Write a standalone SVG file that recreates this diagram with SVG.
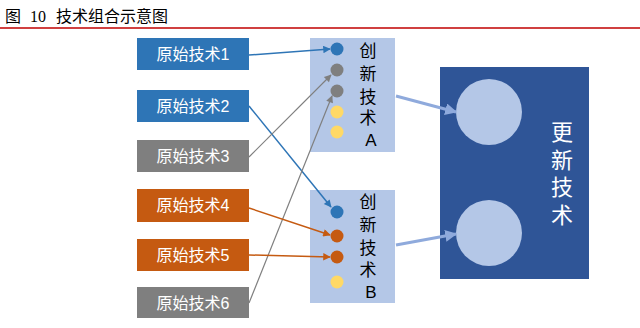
<svg xmlns="http://www.w3.org/2000/svg" width="640" height="328" viewBox="0 0 640 328">
<style>
.t{font-family:"Liberation Sans","Noto Sans CJK SC",sans-serif;}
.lbl{font-size:16px;fill:#fff;text-anchor:middle;}
.v{font-size:17px;fill:#000;text-anchor:middle;}
</style>
<defs>
<marker id="ab" viewBox="0 0 10 10" refX="9" refY="5" markerWidth="6" markerHeight="5" orient="auto" markerUnits="strokeWidth"><path d="M0,0L10,5L0,10z" fill="#2e75b6"/></marker>
<marker id="ag" viewBox="0 0 10 10" refX="9" refY="5" markerWidth="7" markerHeight="6" orient="auto" markerUnits="strokeWidth"><path d="M0,0L10,5L0,10z" fill="#7f7f7f"/></marker>
<marker id="ao" viewBox="0 0 10 10" refX="9" refY="5" markerWidth="6" markerHeight="5" orient="auto" markerUnits="strokeWidth"><path d="M0,0L10,5L0,10z" fill="#c55a11"/></marker>
<marker id="al" viewBox="0 0 10 10" refX="9" refY="5" markerWidth="4" markerHeight="4" orient="auto" markerUnits="strokeWidth"><path d="M0,0L10,5L0,10z" fill="#8faadc"/></marker>
</defs>
<rect width="640" height="328" fill="#fff"/>
<g id="title" font-family="'Liberation Serif','Noto Sans CJK SC',serif" font-size="16" fill="#000">
<text x="5" y="22">图</text>
<text x="30" y="22">10</text>
<text x="56" y="22">技术组合示意图</text>
<line x1="0" y1="28" x2="640" y2="28" stroke="#c00000" stroke-width="1.5"/>
</g>
<g id="src1"><rect x="137" y="38" width="112" height="32" fill="#2e75b6"/><text class="t lbl" x="193" y="60">原始技术1</text></g>
<g id="src2"><rect x="137" y="90" width="112" height="32" fill="#2e75b6"/><text class="t lbl" x="193" y="112">原始技术2</text></g>
<g id="src3"><rect x="137" y="140" width="112" height="32" fill="#7f7f7f"/><text class="t lbl" x="193" y="162">原始技术3</text></g>
<g id="src4"><rect x="137" y="189" width="112" height="33" fill="#c55a11"/><text class="t lbl" x="193" y="211">原始技术4</text></g>
<g id="src5"><rect x="137" y="239" width="112" height="32" fill="#c55a11"/><text class="t lbl" x="193" y="261">原始技术5</text></g>
<g id="src6"><rect x="137" y="287" width="112" height="31" fill="#7f7f7f"/><text class="t lbl" x="193" y="309">原始技术6</text></g>
<g id="innovA">
<rect x="310" y="38" width="85" height="114" fill="#b4c7e7"/>
<circle cx="337" cy="49" r="6.5" fill="#2e75b6"/>
<circle cx="337" cy="70" r="6.5" fill="#7f7f7f"/>
<circle cx="337" cy="91" r="6.5" fill="#7f7f7f"/>
<circle cx="337" cy="112" r="6.5" fill="#ffd966"/>
<circle cx="337" cy="132" r="6.5" fill="#ffd966"/>
<text class="t v" x="368" y="57">创</text>
<text class="t v" x="368" y="80">新</text>
<text class="t v" x="368" y="103">技</text>
<text class="t v" x="368" y="124">术</text>
<text class="t v" x="371" y="146">A</text>
</g>
<g id="innovB">
<rect x="310" y="190" width="85" height="113" fill="#b4c7e7"/>
<circle cx="337" cy="212" r="6.5" fill="#2e75b6"/>
<circle cx="337" cy="236" r="6.5" fill="#c55a11"/>
<circle cx="337" cy="257" r="6.5" fill="#c55a11"/>
<circle cx="337" cy="282" r="6.5" fill="#ffd966"/>
<text class="t v" x="368" y="208">创</text>
<text class="t v" x="368" y="231">新</text>
<text class="t v" x="368" y="254">技</text>
<text class="t v" x="368" y="276">术</text>
<text class="t v" x="371" y="298">B</text>
</g>
<g id="updated">
<rect x="440" y="67" width="149" height="212" fill="#2f5597"/>
<circle cx="489" cy="112" r="33" fill="#b4c7e7"/>
<circle cx="489" cy="233" r="33" fill="#b4c7e7"/>
<g font-family="'Liberation Sans','Noto Sans CJK SC',sans-serif" font-size="22" fill="#fff" text-anchor="middle">
<text x="562" y="140">更</text>
<text x="562" y="168">新</text>
<text x="562" y="195">技</text>
<text x="562" y="223">术</text>
</g>
</g>
<g id="connectors" fill="none">
<line x1="249" y1="55" x2="330" y2="49" stroke="#2e75b6" stroke-width="1.5" marker-end="url(#ab)"/>
<line x1="249" y1="106" x2="331" y2="207" stroke="#2e75b6" stroke-width="1.5" marker-end="url(#ab)"/>
<line x1="249" y1="157" x2="331" y2="75" stroke="#7f7f7f" stroke-width="1.2" marker-end="url(#ag)"/>
<line x1="249" y1="303" x2="332" y2="96" stroke="#7f7f7f" stroke-width="1.2" marker-end="url(#ag)"/>
<line x1="249" y1="208" x2="330" y2="235" stroke="#c55a11" stroke-width="1.5" marker-end="url(#ao)"/>
<line x1="249" y1="255" x2="330" y2="257" stroke="#c55a11" stroke-width="1.5" marker-end="url(#ao)"/>
<line x1="396" y1="96" x2="456" y2="112" stroke="#8faadc" stroke-width="3" marker-end="url(#al)"/>
<line x1="396" y1="245" x2="456" y2="234" stroke="#8faadc" stroke-width="3" marker-end="url(#al)"/>
</g>
</svg>
